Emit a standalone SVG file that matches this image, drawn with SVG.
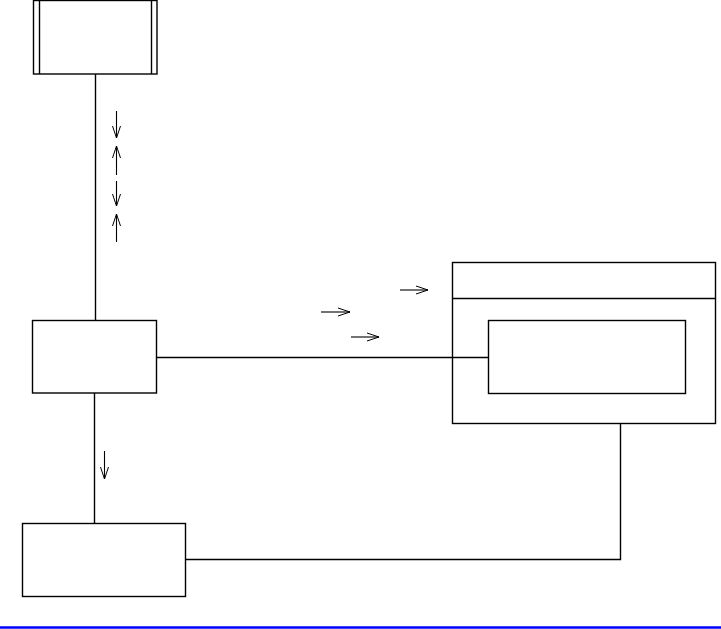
<svg xmlns="http://www.w3.org/2000/svg" width="721" height="629" viewBox="0 0 721 629">
<defs>
<marker id="ah" markerWidth="14" markerHeight="10" refX="13" refY="5" orient="auto" markerUnits="userSpaceOnUse">
<path d="M1,1 L13,5 L1,9" fill="none" stroke="#000" stroke-width="1"/>
</marker>
<style>
.b{fill:#fff;stroke:#000;stroke-width:1.4}
.c{fill:none;stroke:#000;stroke-width:1.4}
.a{fill:none;stroke:#000;stroke-width:1.1;marker-end:url(#ah)}
</style>
</defs>
<rect width="721" height="629" fill="#fff"/>
<g id="node-top">
<rect class="b" x="33.5" y="0.5" width="123.5" height="73.5"/>
<line class="c" x1="39.5" y1="0.5" x2="39.5" y2="74"/>
<line class="c" x1="151.5" y1="0.5" x2="151.5" y2="74"/>
</g>
<g id="node-mid">
<rect class="b" x="32.5" y="320.5" width="124" height="72.5"/>
</g>
<g id="node-bottom">
<rect class="b" x="22.5" y="523.5" width="163" height="73"/>
</g>
<g id="node-right">
<rect class="b" x="452.5" y="262.5" width="263" height="161"/>
<line class="c" x1="452.5" y1="298.5" x2="715.5" y2="298.5"/>
</g>
<g id="node-inner">
<rect class="b" x="488.5" y="320.5" width="197" height="73"/>
</g>
<g id="connectors">
<line class="c" x1="95.5" y1="74" x2="95.5" y2="320"/>
<line class="c" x1="156.5" y1="357.5" x2="488" y2="357.5"/>
<line class="c" x1="94.5" y1="393" x2="94.5" y2="523"/>
<polyline class="c" points="185.5,559.5 620.5,559.5 620.5,423"/>
<line class="a" x1="116.5" y1="111" x2="116.5" y2="138"/>
<line class="a" x1="116.5" y1="175" x2="116.5" y2="146"/>
<line class="a" x1="116.5" y1="181" x2="116.5" y2="206"/>
<line class="a" x1="116.5" y1="242" x2="116.5" y2="214"/>
<line class="a" x1="104.5" y1="451" x2="104.5" y2="479"/>
<line class="a" x1="400" y1="290" x2="428" y2="290"/>
<line class="a" x1="321" y1="312" x2="350" y2="312"/>
<line class="a" x1="351" y1="337" x2="379" y2="337"/>
</g>
<line x1="0" y1="627.5" x2="721" y2="627.5" stroke="#0000ff" stroke-width="2.4"/>
</svg>
